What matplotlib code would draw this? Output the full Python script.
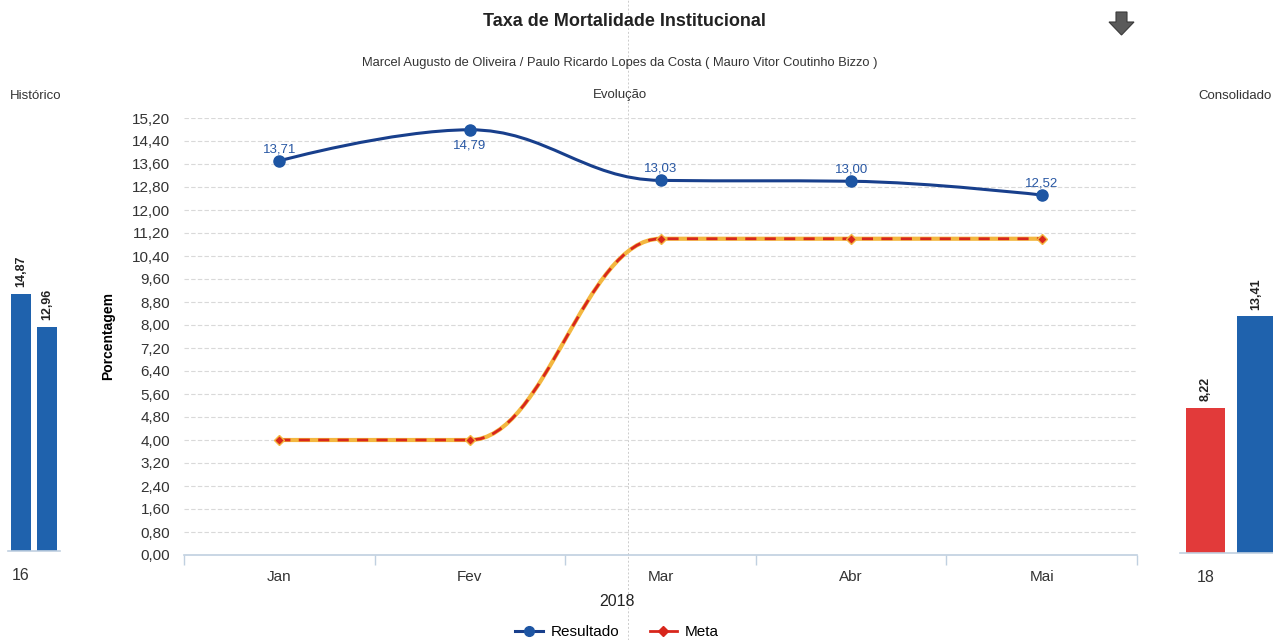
import matplotlib
matplotlib.use("Agg")
import matplotlib.pyplot as plt
from matplotlib.path import Path
from matplotlib.patches import PathPatch, Polygon
from matplotlib.lines import Line2D

plt.rcParams['font.family'] = ['Liberation Sans', 'DejaVu Sans']

# ---- data ----
months = ["Jan", "Fev", "Mar", "Abr", "Mai"]
resultado = [13.71, 14.79, 13.03, 13.00, 12.52]
meta = [4.00, 4.00, 11.00, 11.00, 11.00]
y_ticks = [i * 0.8 for i in range(20)]

hist_category = "16"
hist_values = [14.87, 12.96]

cons_category = "18"
cons_values = [8.22, 13.41]

title = "Taxa de Mortalidade Institucional"
subtitle = "Marcel Augusto de Oliveira / Paulo Ricardo Lopes da Costa ( Mauro Vitor Coutinho Bizzo )"
year_label = "2018"

BLUE_LINE = "#183f8c"
BLUE_MARK = "#1d55a3"
BLUE_TEXT = "#2857a3"
BAR_BLUE = "#1f62ad"
BAR_RED = "#e23a3a"
META_RED = "#d8261c"
META_YELLOW = "#f3b740"
GRID = "#d9d9d9"
AXIS = "#c0d0e0"
TEXT = "#333333"

W, H = 1273, 640
fig = plt.figure(figsize=(W / 100, H / 100), dpi=100)


def fmt(v):
    return f"{v:.2f}".replace(".", ",")


def spline_path(xs, ys, smoothing=1.5):
    """Cubic Bezier spline through the points (Highcharts style)."""
    n = len(xs)
    denom = smoothing + 1
    left = [None] * n
    right = [None] * n
    for i in range(1, n - 1):
        lx, ly = xs[i - 1], ys[i - 1]
        px, py = xs[i], ys[i]
        nx, ny = xs[i + 1], ys[i + 1]
        lcx = (smoothing * px + lx) / denom
        lcy = (smoothing * py + ly) / denom
        rcx = (smoothing * px + nx) / denom
        rcy = (smoothing * py + ny) / denom
        if rcx != lcx:
            corr = (rcy - lcy) * (rcx - px) / (rcx - lcx) + py - rcy
            lcy += corr
            rcy += corr
        if lcy > ly and lcy > py:
            lcy = max(ly, py)
            rcy = 2 * py - lcy
        elif lcy < ly and lcy < py:
            lcy = min(ly, py)
            rcy = 2 * py - lcy
        if rcy > ny and rcy > py:
            rcy = max(ny, py)
            lcy = 2 * py - rcy
        elif rcy < ny and rcy < py:
            rcy = min(ny, py)
            lcy = 2 * py - rcy
        left[i] = (lcx, lcy)
        right[i] = (rcx, rcy)
    verts = [(xs[0], ys[0])]
    codes = [Path.MOVETO]
    for i in range(1, n):
        c1 = right[i - 1] if right[i - 1] else (xs[i - 1], ys[i - 1])
        c2 = left[i] if left[i] else (xs[i], ys[i])
        verts += [c1, c2, (xs[i], ys[i])]
        codes += [Path.CURVE4] * 3
    return Path(verts, codes)


def px_axes(x0, y0, x1, y1):
    return fig.add_axes([x0 / W, 1 - y1 / H, (x1 - x0) / W, (y1 - y0) / H])


# faint vertical fold line behind everything
fig.add_artist(Line2D([628 / W, 628 / W], [0, 1], color="#cccccc", linewidth=0.7,
                      linestyle=(0, (2, 2)), transform=fig.transFigure, zorder=0))

# ---- main chart ----
ax = px_axes(184, 118, 1137, 555)
ax.patch.set_alpha(0)
x = list(range(len(months)))
ax.set_xlim(-0.5, len(months) - 0.5)
ax.set_ylim(0, y_ticks[-1])
ax.set_yticks(y_ticks)
ax.set_yticklabels([fmt(v) for v in y_ticks], fontsize=11, color=TEXT)
ax.yaxis.grid(True, color=GRID, linestyle=(0, (4, 2)), linewidth=0.8)
ax.set_axisbelow(True)
ax.set_xticks(x)
ax.set_xticklabels(months, fontsize=11, color=TEXT)
ax.set_xticks([i - 0.5 for i in range(len(months) + 1)], minor=True)
ax.tick_params(axis="x", which="major", length=0, pad=11)
ax.tick_params(axis="x", which="minor", length=7, color=AXIS, width=1)
ax.tick_params(axis="y", length=0, pad=10)
for s in ("top", "right", "left"):
    ax.spines[s].set_visible(False)
ax.spines["bottom"].set_color(AXIS)
ax.spines["bottom"].set_linewidth(1.2)
ax.set_ylabel("Porcentagem", fontsize=10, fontweight="bold", labelpad=12)
ax.set_xlabel(year_label, fontsize=11.5, color="#222222")
ax.xaxis.set_label_coords((617 - 184) / (1137 - 184), -(594 - 555) / (555 - 118))

# Meta: yellow line under a red dashed one
meta_path = spline_path(x, meta)
ax.add_patch(PathPatch(meta_path, fill=False, edgecolor=META_YELLOW, linewidth=3.0, zorder=3))
ax.add_patch(PathPatch(meta_path, fill=False, edgecolor=META_RED, linewidth=2.0,
                       linestyle=(0, (4, 3)), zorder=4))
ax.plot(x, meta, linestyle="none", marker="D", markersize=5, markerfacecolor=META_RED,
        markeredgecolor=META_YELLOW, markeredgewidth=1.0, zorder=5)

# Resultado
res_path = spline_path(x, resultado)
ax.add_patch(PathPatch(res_path, fill=False, edgecolor=BLUE_LINE, linewidth=2.2, zorder=6))
ax.plot(x, resultado, linestyle="none", marker="o", markersize=8, markerfacecolor=BLUE_MARK,
        markeredgecolor=BLUE_MARK, zorder=7)
ymax = y_ticks[-1]
for xi, v in zip(x, resultado):
    if v + 1.0 > ymax:
        ax.annotate(fmt(v), (xi, v), xytext=(0, -7), textcoords="offset points",
                    ha="center", va="top", fontsize=9.5, color=BLUE_TEXT, zorder=8)
    else:
        ax.annotate(fmt(v), (xi, v), xytext=(0, 4), textcoords="offset points",
                    ha="center", va="bottom", fontsize=9.5, color=BLUE_TEXT, zorder=8)

handles = [
    Line2D([], [], color=BLUE_LINE, linewidth=2.2, marker="o", markersize=7,
           markerfacecolor=BLUE_MARK, markeredgecolor=BLUE_MARK),
    Line2D([], [], color=META_RED, linewidth=2.0, marker="D", markersize=5,
           markerfacecolor=META_RED, markeredgecolor=META_RED),
]
fig.legend(handles, ["Resultado", "Meta"], loc="center", bbox_to_anchor=(617 / W, 1 - 632 / H),
           ncol=2, frameon=False, fontsize=11, handlelength=1.8, columnspacing=2.0,
           handletextpad=0.5, borderpad=0.2)


# ---- side column charts ----
def side_chart(x0, x1, y_bottom, px_per_unit, values, colors, category):
    top_val = 25.0
    a = px_axes(x0, y_bottom - top_val * px_per_unit, x1, y_bottom)
    a.set_xlim(-0.5, 0.5)
    a.set_ylim(0, top_val)
    offsets = [-0.25, 0.25]
    a.bar(offsets, values, width=0.38, color=colors, edgecolor="none", zorder=2)
    for off, v in zip(offsets, values):
        a.annotate(fmt(v), (off, v), xytext=(0, 5), textcoords="offset points",
                   ha="center", va="bottom", rotation=90, fontsize=9, fontweight="bold",
                   color="#222222")
    for s in ("top", "right", "left"):
        a.spines[s].set_visible(False)
    a.spines["bottom"].set_color(AXIS)
    a.spines["bottom"].set_linewidth(1.2)
    a.set_yticks([])
    a.set_xticks([offsets[0]])
    a.set_xticklabels([category], fontsize=11.5, color=TEXT)
    a.tick_params(axis="x", length=0, pad=12)
    a.patch.set_alpha(0)
    return a


side_chart(8, 60, 551, 17.28, hist_values, [BAR_BLUE, BAR_BLUE], hist_category)
side_chart(1180, 1282, 553, 17.64, cons_values, [BAR_RED, BAR_BLUE], cons_category)

# ---- titles ----
fig.text(624 / W, 1 - 22 / H, title, ha="center", va="center", fontsize=13, fontweight="bold",
         color="#222222")
fig.text(620 / W, 1 - 63 / H, subtitle, ha="center", va="center", fontsize=9.3, color=TEXT)
fig.text(620 / W, 1 - 95 / H, "Evolução", ha="center", va="center", fontsize=9.5, color=TEXT)
fig.text(10 / W, 1 - 96 / H, "Histórico", ha="left", va="center", fontsize=9.5, color=TEXT)
fig.text(1198 / W, 1 - 96 / H, "Consolidado", ha="left", va="center", fontsize=9.5, color=TEXT)

# export menu arrow
arrow = [(1116, 12), (1127, 12), (1127, 22), (1134, 22), (1121.5, 35), (1109, 22), (1116, 22)]
fig.add_artist(Polygon([(px_ / W, 1 - py_ / H) for px_, py_ in arrow], closed=True,
                       facecolor="#5a5a5a", edgecolor="#3a3a3a", linewidth=0.8,
                       transform=fig.transFigure))

fig.savefig("out.png", dpi=100)
